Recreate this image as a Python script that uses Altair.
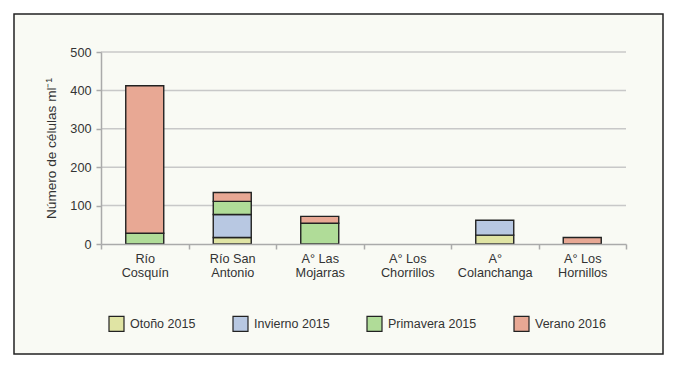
import altair as alt
import pandas as pd

categories = ["Río\nCosquín", "Río San\nAntonio", "A° Las\nMojarras",
              "A° Los\nChorrillos", "A°\nColanchanga", "A° Los\nHornillos"]
seasons = ["Otoño 2015", "Invierno 2015", "Primavera 2015", "Verano 2016"]
otono = [0, 17, 0, 0, 23, 0]
invierno = [0, 60, 0, 0, 39, 0]
primavera = [28, 34, 54, 0, 0, 0]
verano = [384, 23, 18, 0, 0, 17]
colors = ["#e0e4a4", "#b8c8e2", "#b0dc98", "#e8a894"]
y_ticks = [0, 100, 200, 300, 400, 500]

rows = []
for si, (season, vals) in enumerate(zip(seasons, [otono, invierno, primavera, verano])):
    for cat, v in zip(categories, vals):
        if v > 0:
            rows.append({"site": cat, "season": season, "order": si, "value": v})
df = pd.DataFrame(rows)
grid_df = pd.DataFrame({"value": y_ticks[1:]})

FONT = "Liberation Sans"
FS = 12.7
TXT = "#333333"
W, H = 525, 192

frame = alt.Chart(alt.Data(values=[{}])).mark_rect(
    fill="#f9faf4", stroke="#222222", strokeWidth=1.5
).encode(
    x=alt.value(-87), x2=alt.value(562), y=alt.value(-38), y2=alt.value(302)
)

yscale = alt.Scale(domain=[0, 500], nice=False)
yaxis = alt.Axis(title="Número de células ml⁻¹", values=y_ticks,
                 titlePadding=11, titleFontSize=13.6, tickSize=5, labelPadding=5,
                 labelOverlap=False, grid=False, zindex=1,
                 domainColor="#aaaaaa", tickColor="#aaaaaa",
                 domainWidth=1.5, tickWidth=1.5)

grid = alt.Chart(grid_df).mark_rule(color="#c8c8c8", strokeWidth=1.5).encode(
    y=alt.Y("value:Q", scale=yscale, axis=yaxis, title="Número de células ml⁻¹"),
    x=alt.value(0), x2=alt.value(W),
)

bars = alt.Chart(df).mark_bar(width=38, stroke="#222222", strokeWidth=1.4).encode(
    x=alt.X("site:N", sort=categories,
            scale=alt.Scale(domain=categories, paddingInner=0, paddingOuter=0),
            axis=alt.Axis(title=None, labelAngle=0, tickBand="extent",
                          labelExpr="datum.value ? split(datum.value, '\\n') : ''",
                          labelLineHeight=14.5, labelPadding=3, tickSize=5,
                          domainColor="#aaaaaa", tickColor="#aaaaaa",
                          domainWidth=1.5, tickWidth=1.5, zindex=1)),
    y=alt.Y("value:Q", stack="zero", scale=yscale, axis=yaxis,
            title="Número de células ml⁻¹"),
    color=alt.Color("season:N", sort=seasons,
                    scale=alt.Scale(domain=seasons, range=colors),
                    legend=alt.Legend(title=None, orient="none", legendX=7, legendY=263,
                                      direction="horizontal", columns=4,
                                      symbolType="square", symbolSize=225,
                                      symbolStrokeColor="#222222", symbolStrokeWidth=1.2,
                                      symbolOpacity=1, labelOffset=5, columnPadding=34,
                                      padding=0)),
    order=alt.Order("order:Q"),
)

chart = alt.layer(frame, grid, bars).properties(
    width=W, height=H, background="white"
).configure_view(stroke=None).configure_axis(
    labelFont=FONT, titleFont=FONT, labelFontSize=FS, titleFontSize=FS,
    labelColor=TXT, titleColor=TXT, titleFontWeight="normal"
).configure_legend(
    labelFont=FONT, labelFontSize=12.5, labelColor=TXT
)

chart.save("out.html", embed_options={"renderer": "svg", "actions": False})
